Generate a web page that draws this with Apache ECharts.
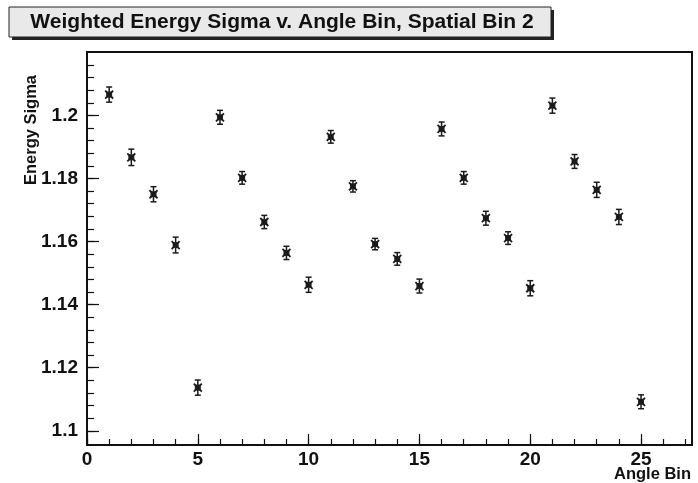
<!DOCTYPE html>
<html>
<head>
<meta charset="utf-8">
<script src="https://cdn.jsdelivr.net/npm/echarts@6/dist/echarts.min.js"></script>
<style>
  html, body { margin: 0; padding: 0; background: #ffffff; }
  #chart { width: 698px; height: 483px; }
</style>
</head>
<body>
<div id="chart"></div>
<script>
// Weighted energy sigma per angle bin (spatial bin 2), with statistical errors
const angleBins = [1, 2, 3, 4, 5, 6, 7, 8, 9, 10, 11, 12, 13, 14, 15, 16, 17, 18, 19, 20, 21, 22, 23, 24, 25];
const sigmaValues = [
  1.2066, 1.1867, 1.1750, 1.1589, 1.1137,
  1.1994, 1.1802, 1.1662, 1.1564, 1.1463,
  1.1932, 1.1775, 1.1592, 1.1545, 1.1459,
  1.1957, 1.1802, 1.1674, 1.1611, 1.1452,
  1.2031, 1.1854, 1.1764, 1.1678, 1.1092
];
const sigmaErrors = [
  0.0024, 0.0026, 0.0024, 0.0025, 0.0024,
  0.0022, 0.0020, 0.0021, 0.0021, 0.0024,
  0.0020, 0.0018, 0.0018, 0.0020, 0.0022,
  0.0022, 0.0020, 0.0022, 0.0020, 0.0024,
  0.0024, 0.0022, 0.0024, 0.0024, 0.0022
];

// Axis ticks and labels
const xMajorTicks = [0, 5, 10, 15, 20, 25];
const xMinorTicks = [];
for (let i = 0; i <= 27; i++) xMinorTicks.push(i);
const yMajorTicks = [1.1, 1.12, 1.14, 1.16, 1.18, 1.2];
const yMinorTicks = [];
for (let k = 0; k <= 29; k++) yMinorTicks.push(+(1.1 + k * 0.004).toFixed(3));

const X_MIN = 0, X_MAX = 27.3;
const Y_MIN = 1.0955, Y_MAX = 1.2201;

const FONT_FAMILY = '"Liberation Sans", Arial, sans-serif';
const labelFont = { color: '#111', fontFamily: FONT_FAMILY, fontWeight: 'bold', fontSize: 19 };

const points = angleBins.map((x, i) => [x, sigmaValues[i], sigmaErrors[i]]);

function renderPoint(params, api) {
  const x = api.value(0), v = api.value(1), e = api.value(2);
  const c = api.coord([x, v]);
  const hi = api.coord([x, v + e]);
  const lo = api.coord([x, v - e]);
  const stroke = { stroke: '#1a1a1a', lineWidth: 1.5 };
  const r = 4;
  return {
    type: 'group',
    children: [
      { type: 'line', shape: { x1: c[0], y1: hi[1], x2: c[0], y2: lo[1] }, style: stroke },
      { type: 'line', shape: { x1: c[0] - 3, y1: hi[1], x2: c[0] + 3, y2: hi[1] }, style: stroke },
      { type: 'line', shape: { x1: c[0] - 3, y1: lo[1], x2: c[0] + 3, y2: lo[1] }, style: stroke },
      { type: 'rect', shape: { x: c[0] - 3, y: c[1] - 3, width: 6, height: 6 }, style: { fill: '#222' } },
      { type: 'line', shape: { x1: c[0] - r, y1: c[1] - r, x2: c[0] + r, y2: c[1] + r }, style: { stroke: '#1a1a1a', lineWidth: 1.8 } },
      { type: 'line', shape: { x1: c[0] - r, y1: c[1] + r, x2: c[0] + r, y2: c[1] - r }, style: { stroke: '#1a1a1a', lineWidth: 1.8 } }
    ]
  };
}

const chart = echarts.init(document.getElementById('chart'), null, { renderer: 'canvas' });
chart.setOption({
  backgroundColor: '#ffffff',
  animation: false,
  grid: {
    left: 87, right: 6, top: 52, bottom: 38,
    show: true, borderColor: '#111', borderWidth: 2, backgroundColor: 'transparent'
  },
  xAxis: [
    {
      type: 'value', min: X_MIN, max: X_MAX, position: 'bottom',
      axisLine: { show: true, lineStyle: { color: '#111', width: 2 } },
      axisTick: { show: true, inside: true, length: 11, lineStyle: { color: '#111', width: 1.2 }, customValues: xMajorTicks },
      axisLabel: Object.assign({ margin: 5, customValues: xMajorTicks }, labelFont),
      splitLine: { show: false }
    },
    {
      type: 'value', min: X_MIN, max: X_MAX, position: 'bottom', offset: 0,
      axisLine: { show: false },
      axisTick: { show: true, inside: true, length: 6, lineStyle: { color: '#111', width: 1.2 }, customValues: xMinorTicks },
      axisLabel: { show: false },
      splitLine: { show: false }
    }
  ],
  yAxis: [
    {
      type: 'value', min: Y_MIN, max: Y_MAX, position: 'left',
      axisLine: { show: true, lineStyle: { color: '#111', width: 2 } },
      axisTick: { show: true, inside: true, length: 12, lineStyle: { color: '#111', width: 1.2 }, customValues: yMajorTicks },
      axisLabel: Object.assign({ margin: 9, customValues: yMajorTicks, formatter: v => String(+v.toFixed(2)) }, labelFont),
      splitLine: { show: false }
    },
    {
      type: 'value', min: Y_MIN, max: Y_MAX, position: 'left', offset: 0,
      axisLine: { show: false },
      axisTick: { show: true, inside: true, length: 7, lineStyle: { color: '#111', width: 1.2 }, customValues: yMinorTicks },
      axisLabel: { show: false },
      splitLine: { show: false }
    }
  ],
  series: [
    {
      type: 'custom',
      xAxisIndex: 0, yAxisIndex: 0,
      data: points,
      renderItem: renderPoint,
      encode: { x: 0, y: 1 },
      clip: false
    }
  ],
  graphic: [
    // title box with drop shadow
    { type: 'rect', shape: { x: 12, y: 10, width: 542, height: 30 }, style: { fill: '#222' }, z: 10 },
    { type: 'rect', shape: { x: 9, y: 7, width: 542, height: 30 }, style: { fill: '#e9e9e9', stroke: '#222', lineWidth: 1 }, z: 11 },
    {
      type: 'text', x: 282, y: 22, z: 12,
      style: {
        text: 'Weighted Energy Sigma v. Angle Bin, Spatial Bin 2',
        fill: '#111', font: 'bold 21px ' + FONT_FAMILY,
        textAlign: 'center', textVerticalAlign: 'middle'
      }
    },
    // axis titles
    {
      type: 'text', x: 31, y: 130, rotation: Math.PI / 2, z: 12,
      style: {
        text: 'Energy Sigma', fill: '#111', font: 'bold 16.5px ' + FONT_FAMILY,
        textAlign: 'center', textVerticalAlign: 'middle'
      }
    },
    {
      type: 'text', x: 691, y: 474, z: 12,
      style: {
        text: 'Angle Bin', fill: '#111', font: 'bold 16.5px ' + FONT_FAMILY,
        textAlign: 'right', textVerticalAlign: 'middle'
      }
    }
  ]
});
</script>
</body>
</html>
